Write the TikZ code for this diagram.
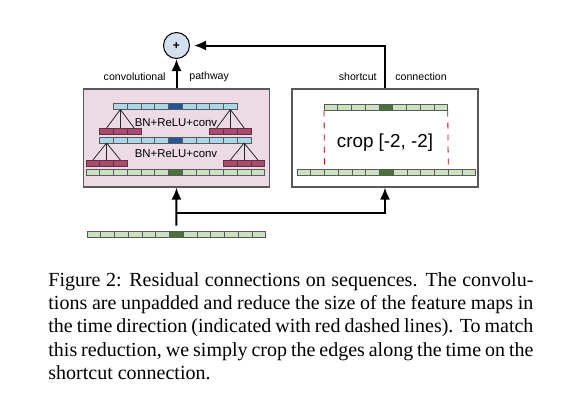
\documentclass[tikz,border=0pt]{standalone}
\usepackage{fontspec}
\setmainfont{Liberation Serif}
\setsansfont{Liberation Sans}
\usetikzlibrary{arrows.meta}

\definecolor{boxpink}{RGB}{236,219,229}
\definecolor{kernred}{RGB}{168,76,110}
\definecolor{cellblue}{RGB}{172,215,232}
\definecolor{darkblue}{RGB}{34,86,152}
\definecolor{cellgreen}{RGB}{204,224,194}
\definecolor{darkgreen}{RGB}{74,114,54}
\definecolor{plusblue}{RGB}{210,224,240}

\begin{document}
\begin{tikzpicture}[x=0.5pt,y=-0.5pt,
    cell/.style={draw=black!65,line width=0.35pt,minimum width=6.875pt,minimum height=3pt,inner sep=0pt,outer sep=0pt},
    gcell/.style={cell,fill=cellgreen},
    dgcell/.style={cell,fill=darkgreen},
    bcell/.style={cell,fill=cellblue},
    dbcell/.style={cell,fill=darkblue},
    kcell/.style={cell,fill=kernred,draw=kernred!60!black},
    kline/.style={line width=0.4pt,black!85},
    block/.style={draw=black!65,line width=0.55pt,minimum width=93pt,minimum height=49pt,inner sep=0pt},
    flow/.style={line width=1pt,-{Latex[length=6pt,width=5pt]}},
    cropline/.style={dashed,red!75!black,line width=0.4pt},
    lbl/.style={font=\sffamily\fontsize{5.3}{6}\selectfont,inner sep=0pt},
    oplbl/.style={font=\sffamily\fontsize{5.7}{6}\selectfont,inner sep=0pt}]
\useasboundingbox (0,0) rectangle (572,407);

% the two blocks
\node[block,fill=boxpink] (convbox) at (176.5,138) {};
\node[block,fill=white] (shortbox) at (385,138) {};

% convolutional pathway
\foreach \i in {0,...,5,7,8,...,12}
  \node[gcell] (lb\i) at (86+13.75*\i+6.875,172) {};
\node[dgcell] (lb6) at (86+13.75*6+6.875,172) {};
\foreach \i in {0,...,4,6,7,...,10}
  \node[bcell] (lm\i) at (99.75+13.75*\i+6.875,140) {};
\node[dbcell] (lm5) at (99.75+13.75*5+6.875,140) {};
\foreach \i in {0,...,3,5,6,...,8}
  \node[bcell] (lt\i) at (113.5+13.75*\i+6.875,106.5) {};
\node[dbcell] (lt4) at (113.5+13.75*4+6.875,106.5) {};

% kernels
\foreach \j in {0,1,2} {
  \node[kcell] (ka\j) at (86+13.75*\j+6.875,163) {};
  \node[kcell] (kb\j) at (223.5+13.75*\j+6.875,163) {};
  \node[kcell] (kc\j) at (99.75+13.75*\j+6.875,131) {};
  \node[kcell] (kd\j) at (209.75+13.75*\j+6.875,131) {};
  \draw[kline] (lm0.south) -- (ka\j.north);
  \draw[kline] (lm10.south) -- (kb\j.north);
  \draw[kline] (lt0.south) -- (kc\j.north);
  \draw[kline] (lt8.south) -- (kd\j.north);
}
\node[oplbl] (op1) at (176,123) {BN+ReLU+conv};
\node[oplbl] (op2) at (176,154) {BN+ReLU+conv};

% shortcut connection
\foreach \i in {0,...,5,7,8,...,12}
  \node[gcell] (sb\i) at (297+13.75*\i+6.875,172) {};
\node[dgcell] (sb6) at (297+13.75*6+6.875,172) {};
\foreach \i in {0,...,3,5,6,...,8}
  \node[gcell] (st\i) at (324+13.75*\i+6.875,107.5) {};
\node[dgcell] (st4) at (324+13.75*4+6.875,107.5) {};
\draw[cropline] (st0.south west) -- (sb2.north west);
\draw[cropline] (st8.south east) -- (sb10.north east);
\node[font=\sffamily\fontsize{9.4}{11}\selectfont,inner sep=0pt] (crop) at (385,143) {crop [-2, -2]};

% input sequence
\foreach \i in {0,...,5,7,8,...,12}
  \node[gcell] (in\i) at (87+13.75*\i+6.875,234.5) {};
\node[dgcell] (in6) at (87+13.75*6+6.875,234.5) {};

% sum
\node[circle,draw,fill=plusblue,line width=0.5pt,minimum size=13pt,inner sep=0pt,font=\sffamily\bfseries\fontsize{6}{6}\selectfont] (plus) at (176.5,45.5) {+};

\coordinate (fork) at (176.5,212.5);
\draw[flow,shorten <=3pt] (in6.north) -- (convbox.south);
\draw[flow] (fork) -| (shortbox.south);
\draw[flow] (convbox.north) -- (plus.south);
\draw[flow,shorten >=2pt] (shortbox.north) |- (plus.east);

\node[lbl,anchor=east] (convlbl) at (166,77) {convolutional};
\node[lbl,anchor=west] (pathlbl) at (189,77) {pathway};
\node[lbl,anchor=east] (shortlbl) at (377,77) {shortcut};
\node[lbl,anchor=west] (connlbl) at (395,77) {connection};

% caption
\node[anchor=base west,text width=242.5pt,align=justify,inner sep=0pt,
      font=\fontsize{10}{11.6}\selectfont] (caption) at (48,286.5)
  {Figure 2: Residual connections on sequences. The convolu-\linebreak
   tions are unpadded and reduce the size of the feature maps in\linebreak
   the time direction (indicated with red dashed lines). To match\linebreak
   this reduction, we simply crop the edges along the time on the\linebreak
   shortcut connection.};
\end{tikzpicture}
\end{document}
